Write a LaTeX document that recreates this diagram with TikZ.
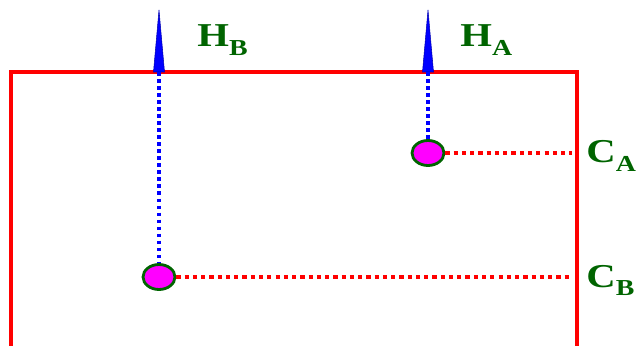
\documentclass[tikz,border=0pt]{standalone}
\usepackage{fontspec}
\setmainfont{Liberation Serif}
\usetikzlibrary{shapes.geometric}
\definecolor{darkgreen}{RGB}{0,100,0}
\definecolor{beadpink}{RGB}{255,0,255}
\newcommand{\sublbl}[2]{\scalebox{1.22}[1]{#1\raisebox{-5pt}{\fontsize{13}{14}\selectfont #2}}}
\begin{document}
\begin{tikzpicture}[
        wall/.style={red, line width=2.6pt},
        bead/.style={ellipse, draw=darkgreen, fill=beadpink, line width=1.6pt,
                     minimum width=0.64cm, minimum height=0.5cm, inner sep=0pt},
        hline/.style={blue, line width=2.2pt, dash pattern=on 2pt off 2pt},
        cline/.style={red, line width=2.2pt, dash pattern=on 2.4pt off 2.3pt},
        spike/.style={fill=blue, draw=blue!70!black, line width=0.3pt},
        lbl/.style={darkgreen, anchor=base west, inner sep=0pt,
                    font=\fontsize{19}{22}\selectfont\bfseries}
    ]
    \useasboundingbox (0,0) rectangle (12.74,6.9);

    % open box
    \draw[wall] (0.22,-0.2) -- (0.22,5.46) -- (11.54,5.46) -- (11.54,-0.2);

    % heights on the top edge
    \coordinate (hb) at (3.18,5.46);
    \coordinate (ha) at (8.56,5.46);
    \fill[spike] ([xshift=-0.11cm]hb) -- (3.18,6.7) -- ([xshift=0.11cm]hb) -- cycle;
    \fill[spike] ([xshift=-0.11cm]ha) -- (8.56,6.7) -- ([xshift=0.11cm]ha) -- cycle;
    \node[lbl] (lhb) at (3.94,5.96) {\sublbl{H}{B}};
    \node[lbl] (lha) at (9.2,5.96) {\sublbl{H}{A}};

    % the two beads
    \node[bead] (cb) at (3.18,1.36) {};
    \node[bead] (ca) at (8.56,3.84) {};
    \draw[hline] (hb) -- (cb);
    \draw[hline] (ha) -- (ca);

    % levels to the right wall
    \coordinate (wa) at (11.44,3.84);
    \coordinate (wb) at (11.44,1.36);
    \draw[cline] (ca) -- (wa);
    \draw[cline] (cb) -- (wb);
    \node[lbl] (lca) at (11.72,3.64) {\sublbl{C}{A}};
    \node[lbl] (lcb) at (11.72,1.16) {\sublbl{C}{B}};
\end{tikzpicture}
\end{document}
